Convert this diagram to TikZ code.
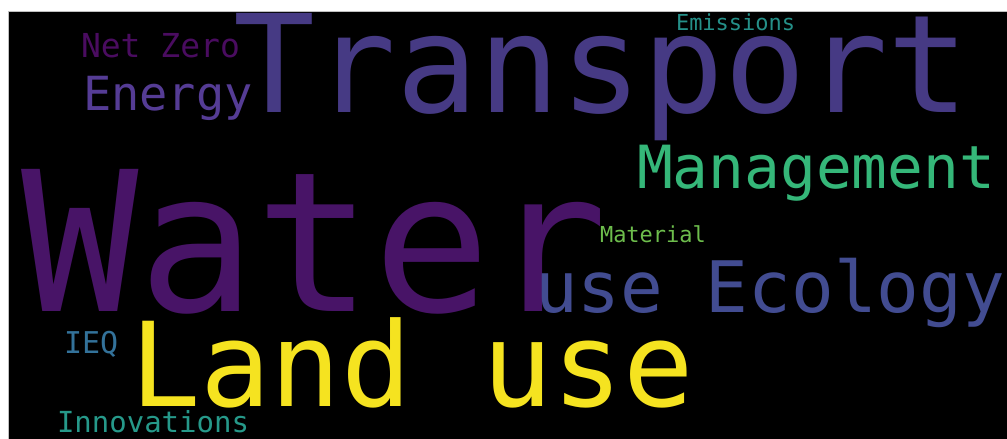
\documentclass[tikz,border=0pt]{standalone}
\usepackage{fontspec}
\setmonofont{DejaVu Sans Mono}
\definecolor{cWater}{HTML}{481467}
\definecolor{cTransport}{HTML}{463A84}
\definecolor{cLand}{HTML}{F5E320}
\definecolor{cEco}{HTML}{424C91}
\definecolor{cMgmt}{HTML}{35B779}
\definecolor{cEnergy}{HTML}{553C95}
\definecolor{cNet}{HTML}{4A0C60}
\definecolor{cEmis}{HTML}{259089}
\definecolor{cMat}{HTML}{6DBD4C}
\definecolor{cIEQ}{HTML}{33729A}
\definecolor{cInno}{HTML}{26998A}
\begin{document}
\begin{tikzpicture}[x=1pt,y=-1pt,
  word/.style={anchor=base west,inner sep=0pt,outer sep=0pt,font=\ttfamily}]
\useasboundingbox (0,0) rectangle (1007,439);
\fill[white] (0,0) rectangle (1007,439);
\fill[black,draw=gray!50,line width=0.6pt] (8,11) rectangle (1008,440);
\begin{scope}
\clip (8,11) rectangle (1007,439);
\node[word,text=cTransport] (transport) at (233,112) {\fontsize{136}{136}\selectfont Transport};
\node[word,text=cWater] (water) at (21,311) {\fontsize{195}{195}\selectfont Water};
\node[word,text=cLand] (land) at (130,406) {\fontsize{117}{117}\selectfont Land use};
\node[word,text=cEco] (eco) at (535,312) {\fontsize{71}{71}\selectfont use Ecology};
\node[word,text=cMgmt] (mgmt) at (637,188) {\fontsize{59.5}{59.5}\selectfont Management};
\node[word,text=cEnergy] (energy) at (83,110) {\fontsize{47}{47}\selectfont Energy};
\node[word,text=cNet] (netzero) at (81,57) {\fontsize{33}{33}\selectfont Net Zero};
\node[word,text=cEmis] (emis) at (676,30) {\fontsize{22}{22}\selectfont Emissions};
\node[word,text=cMat] (mat) at (600,242) {\fontsize{22}{22}\selectfont Material};
\node[word,text=cIEQ] (ieq) at (64,353) {\fontsize{30}{30}\selectfont IEQ};
\node[word,text=cInno] (inno) at (57,432) {\fontsize{29}{29}\selectfont Innovations};
\end{scope}
\end{tikzpicture}
\end{document}
